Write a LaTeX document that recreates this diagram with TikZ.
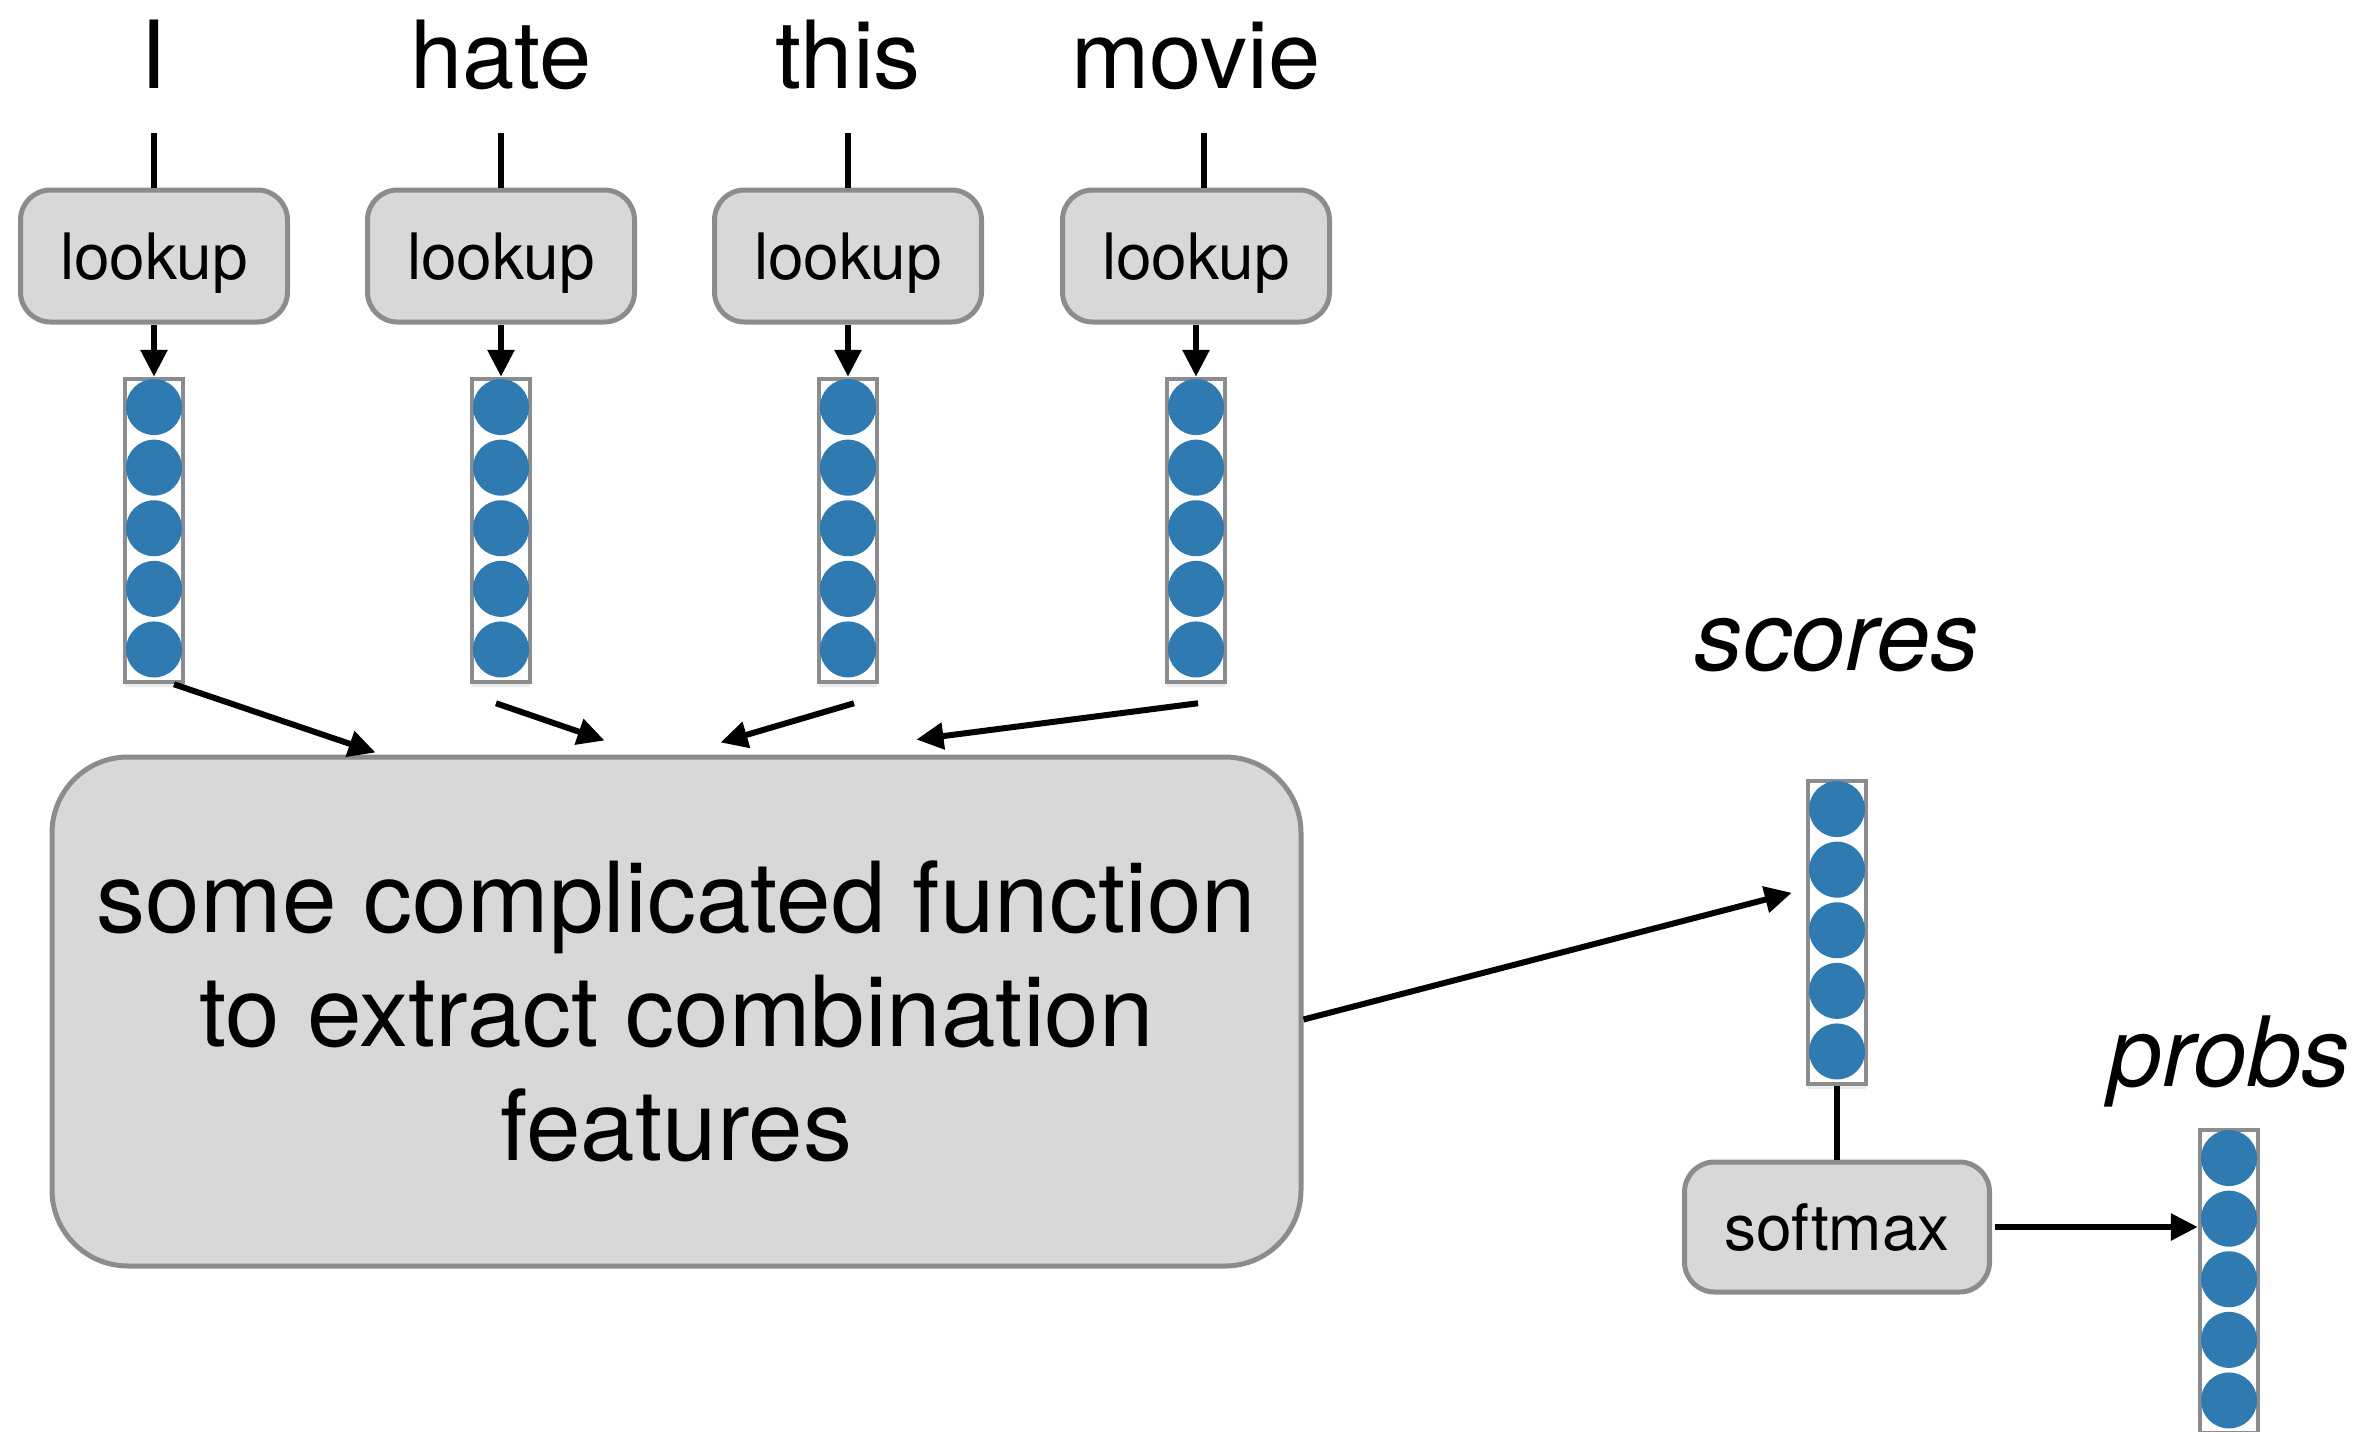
\documentclass[tikz,border=0pt]{standalone}
\usepackage{fontspec}
\setmainfont{TeX Gyre Heros}
\usetikzlibrary{arrows.meta,calc,shadows}

\definecolor{boxfill}{HTML}{D8D8D8}
\definecolor{boxedge}{HTML}{8A8C90}
\definecolor{dotblue}{HTML}{2E7AB1}

\tikzset{
  wordlbl/.style={font=\fontsize{94}{110}\selectfont, anchor=base, inner sep=0pt},
  italbl/.style={font=\fontsize{97}{110}\selectfont\itshape, anchor=base, inner sep=0pt},
  opbox/.style={draw=boxedge, fill=boxfill, line width=5pt, rounded corners=30pt,
    minimum width=267pt, minimum height=132pt, inner sep=0pt, text depth=0pt,
    font=\fontsize{64}{70}\selectfont},
  bigbox/.style={draw=boxedge, fill=boxfill, line width=5pt, rounded corners=76pt,
    minimum width=1249pt, minimum height=509pt, align=center, inner sep=0pt,
    font=\fontsize{98}{114}\selectfont},
  vecbox/.style={draw=boxedge, fill=white, line width=4.5pt, minimum width=58pt,
    minimum height=303pt, inner sep=0pt,
    drop shadow={opacity=0.15, shadow xshift=0pt, shadow yshift=-5pt}},
  conn/.style={line width=6pt, black},
  arr/.style={conn, -{Triangle[length=27pt,width=26pt]}},
}

% a vector: a thin box holding five blue units
\newcommand\vecnode[2]{%
  \node[vecbox] (#1) at (#2) {};
  \foreach \k in {0,...,4}{%
    \fill[dotblue] ([yshift={-30.3pt-60.6pt*\k}]#1.north) circle[radius=28pt];}%
}

\begin{document}
\begin{tikzpicture}[x=1pt, y=-1pt]
  \useasboundingbox (0,0) rectangle (2378,1432);

  % input words
  \node[wordlbl] (wI)    at (154,88)  {I};
  \node[wordlbl] (wHate) at (501,88)  {hate};
  \node[wordlbl] (wThis) at (848,88)  {this};
  \node[wordlbl] (wMov)  at (1196,88) {movie};

  % lookup operations
  \node[opbox] (lkI)    at (154,256)  {lookup};
  \node[opbox] (lkHate) at (501,256)  {lookup};
  \node[opbox] (lkThis) at (848,256)  {lookup};
  \node[opbox] (lkMov)  at (1196,256) {lookup};

  % word embeddings
  \vecnode{eI}{154,530.5}
  \vecnode{eHate}{501,530.5}
  \vecnode{eThis}{848,530.5}
  \vecnode{eMov}{1196,530.5}

  % word -> lookup
  \draw[conn] ([yshift=-45pt]wI.base) -- (lkI.north);
  \draw[conn] ([yshift=-45pt]wHate.base) -- (lkHate.north);
  \draw[conn] ([yshift=-45pt]wThis.base) -- (lkThis.north);
  \draw[conn] ([xshift=8pt,yshift=-45pt]wMov.base) -- ([xshift=8pt]lkMov.north);

  % lookup -> embedding
  \draw[arr] (lkI.south) -- (eI.north);
  \draw[arr] (lkHate.south) -- (eHate.north);
  \draw[arr] (lkThis.south) -- (eThis.north);
  \draw[arr] (lkMov.south) -- (eMov.north);

  % feature extractor
  \node[bigbox] (feat) at (676.5,1011.5)
    {some complicated function\\to extract combination\\features};

  \draw[arr] ([xshift=20pt]eI.south) -- ([xshift=326pt,yshift=2pt]feat.north west);
  \draw[arr] ([xshift=-5pt,yshift=-19pt]eHate.south) -- ([xshift=555pt,yshift=14pt]feat.north west);
  \draw[arr] ([xshift=6pt,yshift=-19pt]eThis.south) -- ([xshift=671pt,yshift=12pt]feat.north west);
  \draw[arr] ([xshift=2pt,yshift=-19pt]eMov.south) -- ([xshift=867pt,yshift=15pt]feat.north west);

  % scores
  \node[italbl] (lblScores) at (1837,670) {scores};
  \vecnode{sc}{1837,932.5}
  \draw[arr] ([yshift=-8pt]feat.east) -- ([xshift=-14pt,yshift=-114pt]sc.north west);

  % softmax
  \node[opbox, minimum width=305pt, minimum height=130pt] (smx) at (1837,1227) {softmax};
  \draw[conn] (sc.south) -- (smx.north);

  % probabilities
  \node[italbl] (lblProbs) at (2229,1086) {probs};
  \vecnode{pr}{2229,1281.5}
  \draw[arr] ([xshift=3pt]smx.east) -- (pr.west |- smx.east);
\end{tikzpicture}
\end{document}
